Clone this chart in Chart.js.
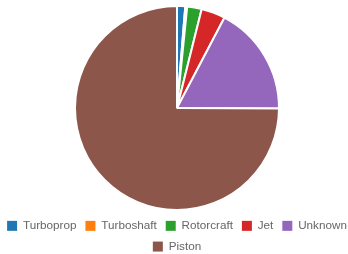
<!DOCTYPE html>
<html>
<head>
<meta charset="utf-8">
<script src="https://cdn.jsdelivr.net/npm/chart.js@4"></script>
<style>
  html, body { margin: 0; padding: 0; background: #fff; }
  #wrap { width: 348px; height: 254px; }
</style>
</head>
<body>
<div id="wrap"><canvas id="myChart"></canvas></div>
<script>
const engineTypes = ["Turboprop", "Turboshaft", "Rotorcraft", "Jet", "Unknown", "Piston"];
const engineCounts = [13, 3, 23, 38, 174, 750];
const sliceColors = ["#1f77b4", "#ff7f0e", "#2ca02c", "#d62728", "#9467bd", "#8c564b"];

// the legend in the original keeps 5 items on the first row and is a bit shorter,
// so stretch the legend's width a little while fitting/drawing and fix its height
const legendTweak = {
  id: "legendTweak",
  beforeLayout(chart) {
    const lg = chart.legend;
    if (!lg || lg._tweaked) return;
    lg._tweaked = true;
    const fit = lg.fit;
    lg.fit = function () {
      this.maxWidth = 380;
      fit.call(this);
      this.height = 43;
    };
    const draw = lg.draw;
    lg.draw = function () {
      const l = this.left, r = this.right;
      this.left = l - 40;
      this.right = r + 40;
      draw.apply(this, arguments);
      this.left = l;
      this.right = r;
    };
  }
};

const pieLabels = Chart.overrides.pie.plugins.legend.labels.generateLabels;

const data = {
  labels: engineTypes,
  datasets: [{
    data: engineCounts,
    backgroundColor: sliceColors,
    borderColor: "#fff",
    borderWidth: 2,
    hoverOffset: 0
  }]
};

const config = {
  type: "pie",
  data: data,
  plugins: [legendTweak],
  options: {
    responsive: true,
    maintainAspectRatio: false,
    animation: false,
    layout: { padding: { top: 5, left: 6, right: 0, bottom: 0 } },
    plugins: {
      legend: {
        position: "bottom",
        labels: {
          boxWidth: 10,
          boxHeight: 10,
          padding: 9,
          color: "#666",
          font: { family: "'Liberation Sans', Arial, sans-serif", size: 11.7 },
          generateLabels: (chart) => pieLabels(chart).map(item => Object.assign(item, { lineWidth: 0 }))
        }
      },
      tooltip: { enabled: false }
    }
  }
};

new Chart(document.getElementById("myChart"), config);
</script>
</body>
</html>
